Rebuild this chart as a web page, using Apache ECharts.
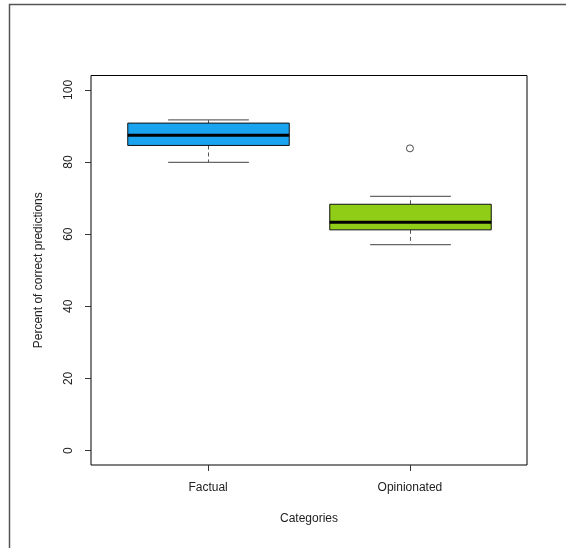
<!DOCTYPE html>
<html>
<head>
<meta charset="utf-8">
<script src="https://cdn.jsdelivr.net/npm/echarts@6/dist/echarts.min.js"></script>
<style>html,body{margin:0;padding:0;background:#fff;}#c{width:566px;height:548px;}</style>
</head>
<body>
<div id="c"></div>
<script>
var categories = ['Factual', 'Opinionated'];
var whiskerLow = [79.9, 57.1];
var q1 = [84.6, 61.2];
var medians = [87.4, 63.3];
var q3 = [90.8, 68.3];
var whiskerHigh = [91.7, 70.5];
var outliers = [[2, 83.8]];
var yTicks = [0, 20, 40, 60, 80, 100];
var colors = ['#1AA3EE', '#90CD17'];

var boxData = categories.map(function (c, i) {
  return [i + 1, whiskerLow[i], q1[i], medians[i], q3[i], whiskerHigh[i]];
});

var font = 'Liberation Sans, Arial, sans-serif';
var chart = echarts.init(document.getElementById('c'));
chart.setOption({
  animation: false,
  backgroundColor: '#fff',
  graphic: [{
    type: 'rect', silent: true, z: 100,
    shape: { x: 9.5, y: 4.5, width: 600, height: 600 },
    style: { fill: 'none', stroke: '#555', lineWidth: 1.5 }
  }],
  grid: { left: 91, right: 39, top: 75.5, bottom: 83, show: true, borderColor: '#000', borderWidth: 1, backgroundColor: 'transparent' },
  xAxis: {
    type: 'value', min: 0.42, max: 2.58,
    name: 'Categories', nameLocation: 'middle', nameGap: 48,
    nameTextStyle: { color: '#222', fontSize: 12, fontFamily: font },
    axisLine: { show: false, onZero: false },
    splitLine: { show: false },
    axisTick: { show: true, length: 6, inside: false, lineStyle: { color: '#333' }, customValues: [1, 2] },
    axisLabel: { show: true, margin: 17, color: '#222', fontSize: 12, fontFamily: font, customValues: [1, 2],
      formatter: function (v) { return categories[Math.round(v) - 1] || ''; } }
  },
  yAxis: {
    type: 'value', min: -4, max: 104,
    name: 'Percent of correct predictions', nameLocation: 'middle', nameGap: 46, nameRotate: 90,
    nameTextStyle: { color: '#222', fontSize: 12, fontFamily: font },
    axisLine: { show: false, onZero: false },
    splitLine: { show: false },
    axisTick: { show: true, length: 6, lineStyle: { color: '#333' }, customValues: yTicks },
    axisLabel: { show: true, rotate: 90, margin: 16, color: '#222', fontSize: 12, fontFamily: font, customValues: yTicks }
  },
  series: [{
    type: 'custom',
    data: boxData,
    encode: { x: 0, y: [1, 2, 3, 4, 5] },
    renderItem: function (params, api) {
      var x = api.value(0);
      var half = api.size([0.8, 0])[0] / 2;
      var capHalf = api.size([0.4, 0])[0] / 2;
      var pLow = api.coord([x, api.value(1)]);
      var pQ1 = api.coord([x, api.value(2)]);
      var pMed = api.coord([x, api.value(3)]);
      var pQ3 = api.coord([x, api.value(4)]);
      var pHigh = api.coord([x, api.value(5)]);
      var cx = Math.round(pMed[0]) + 0.5;
      var wStyle = { stroke: '#555', lineWidth: 1, lineDash: [4, 3] };
      var capStyle = { stroke: '#666', lineWidth: 1.2 };
      return {
        type: 'group',
        children: [
          { type: 'line', shape: { x1: cx, y1: pQ1[1], x2: cx, y2: pLow[1] }, style: wStyle },
          { type: 'line', shape: { x1: cx, y1: pQ3[1], x2: cx, y2: pHigh[1] }, style: wStyle },
          { type: 'line', shape: { x1: cx - capHalf, y1: pLow[1], x2: cx + capHalf, y2: pLow[1] }, style: capStyle },
          { type: 'line', shape: { x1: cx - capHalf, y1: pHigh[1], x2: cx + capHalf, y2: pHigh[1] }, style: capStyle },
          { type: 'rect', shape: { x: cx - half, y: pQ3[1], width: half * 2, height: pQ1[1] - pQ3[1] },
            style: { fill: colors[params.dataIndex], stroke: '#111', lineWidth: 1 } },
          { type: 'line', shape: { x1: cx - half, y1: pMed[1], x2: cx + half, y2: pMed[1] },
            style: { stroke: '#000', lineWidth: 3 } }
        ]
      };
    }
  }, {
    type: 'scatter',
    data: outliers,
    symbol: 'circle',
    symbolSize: 7,
    itemStyle: { color: '#fff', borderColor: '#222', borderWidth: 1 }
  }]
});
</script>
</body>
</html>
